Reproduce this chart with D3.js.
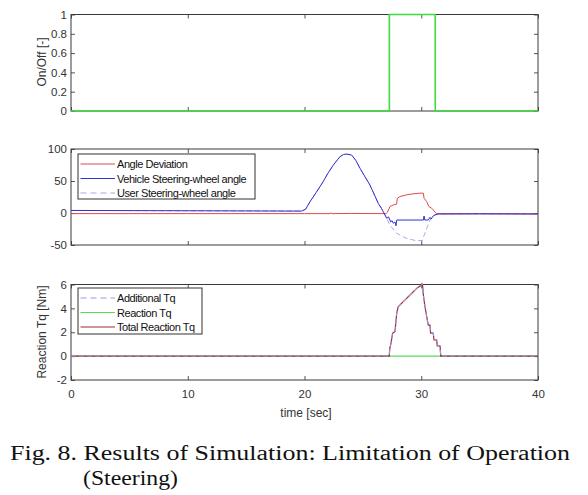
<!DOCTYPE html>
<html><head><meta charset="utf-8">
<script src="https://cdn.jsdelivr.net/npm/d3@7"></script>
<style>body{margin:0;background:#fff;} svg{display:block;}</style>
</head><body>
<svg id="chart" width="588" height="495"></svg>
<script>
// ---------- data ----------
const timeTickValues = [0, 10, 20, 30, 40];
const timeTickLabels = ["0", "10", "20", "30", "40"];

const onOffTickValues = [0, 0.2, 0.4, 0.6, 0.8, 1];
const onOffTickLabels = ["0", "0.2", "0.4", "0.6", "0.8", "1"];
const angleTickValues = [-50, 0, 50, 100];
const angleTickLabels = ["-50", "0", "50", "100"];
const torqueTickValues = [-2, 0, 2, 4, 6];
const torqueTickLabels = ["-2", "0", "2", "4", "6"];

// Panel 1: On/Off
const onOffT = [0, 27.27, 27.27, 31.2, 31.2, 40];
const onOffV = [0, 0, 1, 1, 0, 0];

// Panel 2: angles
const angleDevT = [0, 5, 10, 15, 20, 22.2, 22.25, 22.3, 24, 26.98, 27.1, 27.32, 27.61, 27.89, 27.95, 28.18, 28.75, 29.32, 29.89, 30.18, 30.24, 30.46, 30.66, 30.89, 31.03, 31.18, 31.32, 32, 35, 40];
const angleDevV = [-1, -1, -1, -1, -1, -1, 0.5, -1, -0.7, -1, 1.2, 10, 12.7, 13.7, 23, 25.7, 28.4, 30, 31, 31, 23, 18, 10, 7.5, 4.9, 1.2, -1, -1.2, -1.3, -1.5];

const vehicleT = [0, 10, 19.76, 20.1, 20.47, 21.0, 21.6, 22.0, 22.47, 23.04, 23.35, 23.6, 24.04, 24.4, 24.75, 25.2, 25.6, 26.0, 26.32, 26.6, 26.75, 27.04, 27.2, 27.38, 27.5, 27.61, 27.75, 27.84, 27.9, 30.18, 30.24, 30.3, 30.6, 30.75, 30.85, 31.0, 31.18, 31.46, 35, 40];
const vehicleV = [4, 3.5, 3, 6, 17.7, 32, 49, 62, 75, 88, 91.5, 92, 90.6, 82, 70, 56, 43.8, 28, 15, 7, 2, -8.3, -6, -14, -12, -16, -14, -20, -11, -11, -4.7, -11, -11, -6.7, -9.5, -5, -3, -1.5, -1.2, -1.5];

const userT = [0, 10, 19.76, 20.1, 20.47, 21.0, 21.6, 22.0, 22.47, 23.04, 23.35, 23.6, 24.04, 24.4, 24.75, 25.2, 25.6, 26.0, 26.32, 26.6, 26.75, 27.04, 27.3, 27.9, 28.7, 29.5, 30.1, 30.2, 30.47, 30.75, 31.18, 31.5, 35, 40];
const userV = [4, 3.5, 3, 6, 17.7, 32, 49, 62, 75, 88, 91.5, 92, 90.6, 82, 70, 56, 43.8, 28, 15, 7, 2, -8, -18.8, -31.7, -39.5, -43, -43, -37, -24, -11, -3, -1.5, -1.2, -1.5];

// Panel 3: torques
const totalTqT = [0, 27.26, 27.3, 27.41, 27.55, 27.75, 27.9, 28.03, 28.46, 29.04, 29.61, 30.04, 30.07, 30.11, 30.18, 30.32, 30.47, 30.6, 30.75, 30.8, 31.03, 31.09, 31.32, 31.37, 31.61, 31.67, 40];
const totalTqV = [0, 0, 0.6, 1.09, 1.92, 2.06, 3.6, 4.14, 4.56, 5.12, 5.68, 5.96, 6.1, 5.96, 5.12, 4.14, 3.3, 2.6, 2.6, 1.92, 1.92, 1.36, 1.36, 0.86, 0.86, 0, 0];
const additionalTqT = totalTqT;
const additionalTqV = totalTqV;
const reactionTqT = [0, 40];
const reactionTqV = [0, 0];

// ---------- drawing ----------
const svg = d3.select("#chart");
const x = d3.scaleLinear().domain([0, 40]).range([71, 538]);
const FONT = "'Liberation Sans', Arial, sans-serif";
const zip = (T, V) => T.map((t, i) => [t, V[i]]);

function panel(y, tickVals, tickLabels, showX) {
  const [y0, y1] = y.range();
  const g = svg.append("g");
  const left = d3.axisLeft(y).tickValues(tickVals).tickFormat((d, i) => tickLabels[i]).tickSize(-4).tickPadding(4);
  const right = d3.axisRight(y).tickValues(tickVals).tickFormat("").tickSize(-4);
  const top = d3.axisTop(x).tickValues(timeTickValues).tickFormat("").tickSize(-4);
  const bottom = d3.axisBottom(x).tickValues(timeTickValues)
      .tickFormat(showX ? (d, i) => timeTickLabels[i] : "").tickSize(-4).tickPadding(10);
  const gl = g.append("g").attr("transform", `translate(${x.range()[0]},0)`).call(left);
  const gr = g.append("g").attr("transform", `translate(${x.range()[1]},0)`).call(right);
  const gt = g.append("g").attr("transform", `translate(0,${y1})`).call(top);
  const gb = g.append("g").attr("transform", `translate(0,${y0})`).call(bottom);
  [gl, gr, gt, gb].forEach(a => {
    a.select(".domain").remove();
    a.selectAll("line").attr("stroke", "#555");
    a.selectAll("text").attr("font-family", FONT).attr("font-size", 11.5).attr("fill", "#333");
  });
  g.append("rect").attr("x", x.range()[0]).attr("y", y1)
    .attr("width", x.range()[1] - x.range()[0]).attr("height", y0 - y1)
    .attr("fill", "none").attr("stroke", "#3a3a3a").attr("stroke-width", 1);
  return g;
}

function series(y, T, V, color, width, dash) {
  const line = d3.line().x(d => x(d[0])).y(d => y(d[1]));
  svg.append("path").attr("d", line(zip(T, V)))
    .attr("fill", "none").attr("stroke", color).attr("stroke-width", width)
    .attr("stroke-dasharray", dash || null).attr("stroke-linejoin", "round");
}

function legend(lx, ly, w, h, items) {
  const g = svg.append("g");
  g.append("rect").attr("x", lx).attr("y", ly).attr("width", w).attr("height", h)
    .attr("fill", "#fff").attr("stroke", "#333").attr("stroke-width", 1);
  items.forEach((it, i) => {
    const cy = ly + 10 + i * 14.5;
    g.append("line").attr("x1", lx + 2.5).attr("x2", lx + 37).attr("y1", cy).attr("y2", cy)
      .attr("stroke", it.color).attr("stroke-width", it.w || 1.2).attr("stroke-dasharray", it.dash || null);
    g.append("text").attr("x", lx + 39).attr("y", cy + 4).text(it.label)
      .attr("font-family", FONT).attr("font-size", 11).attr("letter-spacing", -0.45).attr("fill", "#111");
  });
}

// Panel 1
const y1s = d3.scaleLinear().domain([0, 1]).range([111, 14.5]);
panel(y1s, onOffTickValues, onOffTickLabels, false);
series(y1s, onOffT, onOffV, "#3fdc3f", 1.6);

// Panel 2
const y2s = d3.scaleLinear().domain([-50, 100]).range([245, 149]);
panel(y2s, angleTickValues, angleTickLabels, false);
series(y2s, userT, userV, "#a8a8ee", 1, "5,3");
series(y2s, angleDevT, angleDevV, "#e24848", 1);
series(y2s, vehicleT, vehicleV, "#3232cc", 1);
legend(78, 154, 177, 45, [
  {label: "Angle Deviation", color: "#e24848"},
  {label: "Vehicle Steering-wheel angle", color: "#3232cc"},
  {label: "User Steering-wheel angle", color: "#a8a8ee", dash: "6,4"}
]);

// Panel 3
const y3s = d3.scaleLinear().domain([-2, 6]).range([380, 284.5]);
panel(y3s, torqueTickValues, torqueTickLabels, true);
series(y3s, reactionTqT, reactionTqV, "#55dd55", 1.4);
series(y3s, totalTqT, totalTqV, "#a02838", 1.2);
series(y3s, additionalTqT, additionalTqV, "#9a9ae8", 1, "5,3");
legend(78, 288, 124, 46, [
  {label: "Additional Tq", color: "#9a9ae8", dash: "6,4"},
  {label: "Reaction Tq", color: "#55dd55"},
  {label: "Total Reaction Tq", color: "#a02838"}
]);

// Axis labels
svg.append("text").attr("transform", "translate(46,62) rotate(-90)").attr("text-anchor", "middle")
  .attr("font-family", FONT).attr("font-size", 12).attr("fill", "#333").text("On/Off [-]");
svg.append("text").attr("transform", "translate(46,332) rotate(-90)").attr("text-anchor", "middle")
  .attr("font-family", FONT).attr("font-size", 12).attr("fill", "#333").text("Reaction Tq [Nm]");
svg.append("text").attr("x", 306).attr("y", 417).attr("text-anchor", "middle")
  .attr("font-family", FONT).attr("font-size", 12).attr("fill", "#333").text("time [sec]");

// Caption
const SERIF = "'Liberation Serif', 'Times New Roman', serif";
svg.append("text").attr("x", 10).attr("y", 460).attr("font-family", SERIF).attr("font-size", 20.5)
  .attr("fill", "#111").attr("textLength", 560).attr("lengthAdjust", "spacingAndGlyphs")
  .text("Fig. 8. Results of Simulation: Limitation of Operation");
svg.append("text").attr("x", 83).attr("y", 485).attr("font-family", SERIF).attr("font-size", 20.5)
  .attr("fill", "#111").attr("textLength", 95).attr("lengthAdjust", "spacingAndGlyphs")
  .text("(Steering)");
</script>
</body></html>
